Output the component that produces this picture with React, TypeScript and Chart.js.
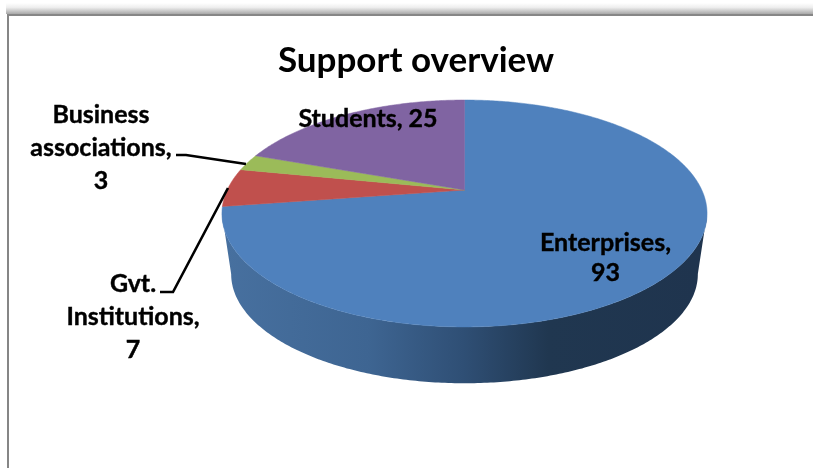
import React, { useEffect, useRef } from "react";
import { Chart, registerables } from "chart.js";

Chart.register(...registerables);

const categories = ["Enterprises", "Gvt. Institutions", "Business associations", "Students"];
const values = [93, 7, 3, 25];
const faceColors = ["#4f81bd", "#c0504d", "#9bbb59", "#8064a2"];
const titleText = "Support overview";

// Where each label wraps, counted in words of "<category>, <value>".
const labelBreaks = [[1], [1, 2], [1, 2], []];
const labelCentres = [
  { x: 605.5, y: 243, lineHeight: 30 },
  { x: 133, y: 284, lineHeight: 33 },
  { x: 101, y: 115, lineHeight: 33 },
  { x: 368, y: 119, lineHeight: 33 },
];
const leaders = [
  null,
  [[160, 292], [173, 292], [228, 188]],
  [[176, 155], [186, 155], [246, 164]],
  null,
];

// Perspective projection of the disc: the apex sits above the centre of the visible ellipse.
const CX = 464.5;
const APEX_Y = 190;
const RADIUS_X = 237.3;
const RADIUS_Y = 108.6;
const TILT = 0.207;
const BASE_SCALE = 0.962;
const BASE_APEX_Y = 251.5;

function project(angle: number, scale: number, apexY: number): [number, number] {
  const u = Math.cos(angle);
  const v = Math.sin(angle);
  const w = 1 - TILT * v;
  return [CX + (RADIUS_X * scale * u) / w, apexY + (RADIUS_Y * scale * v) / w];
}

const perspectivePie = {
  id: "perspectivePie",
  beforeDatasetDraw(chart: any) {
    const ctx: CanvasRenderingContext2D = chart.ctx;
    const arcs = chart.getDatasetMeta(0).data;
    ctx.save();

    // Side wall: the band between the widest points of the top rim and of the base rim.
    const wall = ctx.createLinearGradient(226, 0, 700, 0);
    wall.addColorStop(0, "#47709f");
    wall.addColorStop(0.3, "#3e6592");
    wall.addColorStop(0.5, "#2f4f75");
    wall.addColorStop(0.68, "#203750");
    wall.addColorStop(1, "#1f344e");
    const widest = Math.asin(TILT);
    const steps = 240;
    ctx.fillStyle = wall;
    ctx.beginPath();
    for (let k = 0; k <= steps; k++) {
      const a = widest + ((Math.PI - 2 * widest) * k) / steps;
      const [x, y] = project(a, 1, APEX_Y);
      if (k) ctx.lineTo(x, y);
      else ctx.moveTo(x, y);
    }
    for (let k = steps; k >= 0; k--) {
      const a = widest + ((Math.PI - 2 * widest) * k) / steps;
      const [x, y] = project(a, BASE_SCALE, BASE_APEX_Y);
      ctx.lineTo(x, y);
    }
    ctx.closePath();
    ctx.fill();

    // Top face of each slice; the thin stroke closes the seams between neighbours.
    arcs.forEach((arc: any, i: number) => {
      ctx.fillStyle = faceColors[i];
      ctx.strokeStyle = faceColors[i];
      ctx.lineWidth = 0.5;
      ctx.beginPath();
      ctx.moveTo(CX, APEX_Y);
      const n = Math.max(8, Math.ceil((arc.endAngle - arc.startAngle) * 90));
      for (let k = 0; k <= n; k++) {
        const a = arc.startAngle + ((arc.endAngle - arc.startAngle) * k) / n;
        const [x, y] = project(a, 1, APEX_Y);
        ctx.lineTo(x, y);
      }
      ctx.closePath();
      ctx.fill();
      ctx.stroke();
    });

    ctx.restore();
    return false;
  },
  afterDatasetsDraw(chart: any) {
    const ctx: CanvasRenderingContext2D = chart.ctx;
    ctx.save();

    ctx.strokeStyle = "#000000";
    ctx.lineWidth = 2.6;
    leaders.forEach((pts) => {
      if (!pts) return;
      ctx.beginPath();
      pts.forEach(([x, y], j) => (j ? ctx.lineTo(x, y) : ctx.moveTo(x, y)));
      ctx.stroke();
    });

    // Labels get a hairline outline so the strokes read heavier.
    ctx.fillStyle = "#000000";
    ctx.lineWidth = 0.4;
    ctx.font = "bold 25px Lato";
    ctx.textAlign = "center";
    ctx.textBaseline = "middle";
    categories.forEach((cat, i) => {
      const words = `${cat}, ${values[i]}`.split(" ");
      const lines: string[] = [];
      let start = 0;
      [...labelBreaks[i], words.length].forEach((end) => {
        lines.push(words.slice(start, end).join(" "));
        start = end;
      });
      const { x, y, lineHeight } = labelCentres[i];
      lines.forEach((line, j) => {
        ctx.fillText(line, x, y + j * lineHeight);
        ctx.strokeText(line, x, y + j * lineHeight);
      });
    });
    ctx.restore();
  },
};

export default function App() {
  const ref = useRef<HTMLCanvasElement>(null);

  useEffect(() => {
    const chart = new Chart(ref.current!, {
      type: "pie",
      data: {
        labels: categories,
        datasets: [{ data: values, backgroundColor: faceColors, borderWidth: 0 }],
      },
      options: {
        animation: false,
        responsive: false,
        events: [],
        layout: { padding: { left: 19 } },
        plugins: {
          legend: { display: false },
          tooltip: { enabled: false },
          title: {
            display: true,
            text: titleText,
            color: "#000000",
            font: { family: "Lato", size: 35, weight: "bold" },
            padding: { top: 40, bottom: 0 },
          },
        },
      },
      plugins: [perspectivePie],
    } as any);
    return () => chart.destroy();
  }, []);

  return (
    <div style={{ position: "fixed", inset: 0, width: 813, height: 468, background: "#fff", overflow: "hidden" }}>
      {/* Drop shadow and grey outline of the chart frame */}
      <div
        style={{
          position: "absolute",
          left: 6,
          top: 3,
          width: 807,
          height: 11,
          background: "linear-gradient(to bottom, #ffffff 0%, #eeeeee 40%, #a8a8a8 100%)",
        }}
      />
      <div
        style={{
          position: "absolute",
          left: 7,
          top: 14,
          width: 806,
          height: 454,
          borderTop: "2px solid #868686",
          borderLeft: "2px solid #868686",
          boxSizing: "border-box",
        }}
      />
      <canvas ref={ref} width={813} height={468} style={{ position: "absolute", left: 0, top: 0, width: 813, height: 468 }} />
    </div>
  );
}
